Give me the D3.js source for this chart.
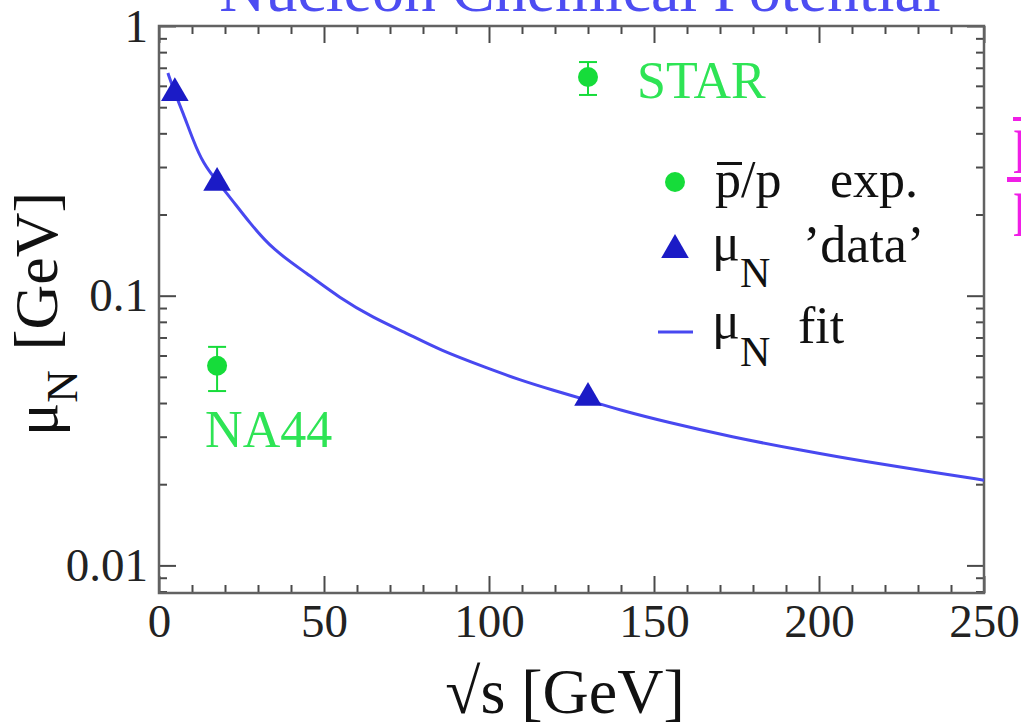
<!DOCTYPE html>
<html lang="en">
<head>
<meta charset="UTF-8">
<title>Nucleon Chemical Potential</title>
<script src="https://d3js.org/d3.v7.min.js"></script>
<style>
  body { margin: 0; background: #fff; overflow: hidden; }
  svg text { font-family: "Liberation Serif", "Times New Roman", Times, serif; }
</style>
</head>
<body>
<div id="chart"></div>
<script>
// fit curve
const fitSqrtS = [2.7, 4.8, 7.3, 10.3, 13.3, 17.9, 21.5, 27.5, 34.5, 44.8, 54.8, 64.8, 75, 85, 99.3, 109.3, 119.2, 129.5, 139.5, 153.8, 173.7, 194, 214.3, 234.3, 250];
const fitMu = [0.669, 0.564, 0.476, 0.378, 0.310, 0.262, 0.232, 0.186, 0.148, 0.121, 0.098, 0.083, 0.0727, 0.0629, 0.054, 0.0487, 0.0447, 0.0411, 0.0377, 0.034, 0.0299, 0.0268, 0.0242, 0.0222, 0.0207];

// mu_N 'data' triangles
const dataSqrtS = [4.8, 17.6, 130];
const dataMu = [0.564, 0.262, 0.0418];

// pbar/p experiments
const expNames = ["STAR", "NA44"];
const expSqrtS = [130, 17.6];
const expVal = [0.647, 0.055];
const expLow = [0.555, 0.0443];
const expHigh = [0.735, 0.0646];

const xTicks = [0, 50, 100, 150, 200, 250];
const xMinor = [10, 20, 30, 40, 60, 70, 80, 90, 110, 120, 130, 140, 160, 170, 180, 190, 210, 220, 230, 240];
const yTicks = [0.01, 0.1, 1];
const yTickLabels = ["0.01", "0.1", "1"];
const yMinor = [0.008, 0.009, 0.02, 0.03, 0.04, 0.05, 0.06, 0.07, 0.08, 0.09, 0.2, 0.3, 0.4, 0.5, 0.6, 0.7, 0.8, 0.9];

const W = 1021, H = 722;
const margin = {top: 26, right: 37, bottom: 129, left: 159};
const width = W - margin.left - margin.right,
      height = H - margin.top - margin.bottom;

const green = "#16dc3a", greenText = "#2ee455";
const axisCol = "#4a4a4a";

const svg = d3.select("#chart").append("svg")
  .attr("width", W).attr("height", H);

// title, mostly cut off at the top
svg.append("text")
  .attr("x", 580).attr("y", 11)
  .attr("text-anchor", "middle")
  .attr("font-size", 64)
  .attr("fill", "#4d4df2")
  .text("Nucleon Chemical Potential");

// piece of the neighbouring panel (magenta pbar/p)
const side = svg.append("g").attr("fill", "#f01ee6");
side.append("text").attr("x", 1013).attr("y", 159).attr("font-size", 64).text("p");
side.append("text").attr("x", 1013).attr("y", 222).attr("font-size", 64).text("p");
side.append("rect").attr("x", 1013).attr("y", 117).attr("width", 20).attr("height", 4);
side.append("rect").attr("x", 1007).attr("y", 177).attr("width", 20).attr("height", 5);

const g = svg.append("g").attr("transform", `translate(${margin.left},${margin.top})`);

const x = d3.scaleLinear().domain([0, 250]).range([0, width]);
const y = d3.scaleLog().domain([0.0079, 1]).range([height, 0]);

function styleAxis(sel) {
  sel.select(".domain").remove();
  sel.selectAll("line").attr("stroke", axisCol).attr("stroke-width", 2);
  sel.selectAll("text").attr("font-size", 47).attr("fill", "#222")
    .attr("font-family", "Liberation Serif, Times New Roman, serif");
}

// bottom
g.append("g").attr("transform", `translate(0,${height})`)
  .call(d3.axisBottom(x).tickValues(xTicks).tickSizeInner(-17).tickSizeOuter(0).tickPadding(11))
  .call(styleAxis);
g.append("g").attr("transform", `translate(0,${height})`)
  .call(d3.axisBottom(x).tickValues(xMinor).tickSizeInner(-8).tickSizeOuter(0).tickFormat(""))
  .call(styleAxis);
// top
g.append("g")
  .call(d3.axisTop(x).tickValues(xTicks).tickSizeInner(-17).tickSizeOuter(0).tickFormat(""))
  .call(styleAxis);
g.append("g")
  .call(d3.axisTop(x).tickValues(xMinor).tickSizeInner(-8).tickSizeOuter(0).tickFormat(""))
  .call(styleAxis);
// left
g.append("g")
  .call(d3.axisLeft(y).tickValues(yTicks).tickSizeInner(-17).tickSizeOuter(0).tickPadding(11)
    .tickFormat((d, i) => yTickLabels[i]))
  .call(styleAxis);
g.append("g")
  .call(d3.axisLeft(y).tickValues(yMinor).tickSizeInner(-8).tickSizeOuter(0).tickFormat(""))
  .call(styleAxis);
// right
g.append("g").attr("transform", `translate(${width},0)`)
  .call(d3.axisRight(y).tickValues(yTicks).tickSizeInner(-17).tickSizeOuter(0).tickFormat(""))
  .call(styleAxis);
g.append("g").attr("transform", `translate(${width},0)`)
  .call(d3.axisRight(y).tickValues(yMinor).tickSizeInner(-8).tickSizeOuter(0).tickFormat(""))
  .call(styleAxis);

// frame
g.append("rect")
  .attr("width", width).attr("height", height)
  .attr("fill", "none").attr("stroke", "#626262").attr("stroke-width", 2.5);

// fit curve (basis spline smooths the reading noise)
const fit = fitSqrtS.map((s, i) => ({s: s, mu: fitMu[i]}));
g.append("path").datum(fit)
  .attr("fill", "none").attr("stroke", "#4848f0").attr("stroke-width", 3)
  .attr("d", d3.line().x(d => x(d.s)).y(d => y(d.mu)).curve(d3.curveBasis));

// triangles
const tri = d3.symbol().type(d3.symbolTriangle).size(330);
g.selectAll(".tri").data(dataSqrtS).join("path")
  .attr("class", "tri")
  .attr("transform", (d, i) => `translate(${x(d)},${y(dataMu[i])})`)
  .attr("d", tri)
  .attr("fill", "#1b1bc6");

// experimental points with error bars
const exps = g.selectAll(".exp").data(expNames).join("g").attr("class", "exp");
exps.append("line")
  .attr("x1", (d, i) => x(expSqrtS[i])).attr("x2", (d, i) => x(expSqrtS[i]))
  .attr("y1", (d, i) => y(expLow[i])).attr("y2", (d, i) => y(expHigh[i]))
  .attr("stroke", green).attr("stroke-width", 2);
[expLow, expHigh].forEach(arr => {
  exps.append("line")
    .attr("x1", (d, i) => x(expSqrtS[i]) - 9).attr("x2", (d, i) => x(expSqrtS[i]) + 9)
    .attr("y1", (d, i) => y(arr[i])).attr("y2", (d, i) => y(arr[i]))
    .attr("stroke", green).attr("stroke-width", 2);
});
exps.append("circle")
  .attr("cx", (d, i) => x(expSqrtS[i])).attr("cy", (d, i) => y(expVal[i]))
  .attr("r", 10).attr("fill", green);

const labelOff = {STAR: [49, 21], NA44: [-12, 81]};
exps.append("text")
  .attr("x", (d, i) => x(expSqrtS[i]) + labelOff[d][0])
  .attr("y", (d, i) => y(expVal[i]) + labelOff[d][1])
  .attr("font-size", 52).attr("fill", greenText)
  .text(d => d);

// legend (page coords)
const leg = svg.append("g").attr("font-size", 52).attr("fill", "#111");
leg.append("circle").attr("cx", 675).attr("cy", 182).attr("r", 10).attr("fill", green);
leg.append("text").attr("x", 715).attr("y", 197).text("p/p");
leg.append("rect").attr("x", 717).attr("y", 162).attr("width", 25).attr("height", 3).attr("fill", "#111");
leg.append("text").attr("x", 830).attr("y", 197).text("exp.");

leg.append("path").attr("transform", "translate(675,250)").attr("d", tri).attr("fill", "#1b1bc6");
const t2 = leg.append("text").attr("x", 712).attr("y", 260);
t2.append("tspan").text("μ");
t2.append("tspan").attr("font-size", 42).attr("dy", 27).text("N");
leg.append("text").attr("x", 803).attr("y", 262).text("’data’");

leg.append("line").attr("x1", 658).attr("x2", 693).attr("y1", 332).attr("y2", 332)
  .attr("stroke", "#4848f0").attr("stroke-width", 3);
const t3 = leg.append("text").attr("x", 712).attr("y", 338);
t3.append("tspan").text("μ");
t3.append("tspan").attr("font-size", 42).attr("dy", 28).text("N");
leg.append("text").attr("x", 798).attr("y", 343).text("fit");

// axis titles
svg.append("text")
  .attr("x", 565).attr("y", 713)
  .attr("text-anchor", "middle").attr("font-size", 64).attr("fill", "#111")
  .text("√s [GeV]");

const yl = svg.append("text")
  .attr("transform", "translate(57,436) rotate(-90)")
  .attr("font-size", 62).attr("fill", "#111");
yl.append("tspan").text("μ");
yl.append("tspan").attr("font-size", 45).attr("dy", 20).text("N");
yl.append("tspan").attr("dy", -20).attr("dx", 20).text("[GeV]");
</script>
</body>
</html>
